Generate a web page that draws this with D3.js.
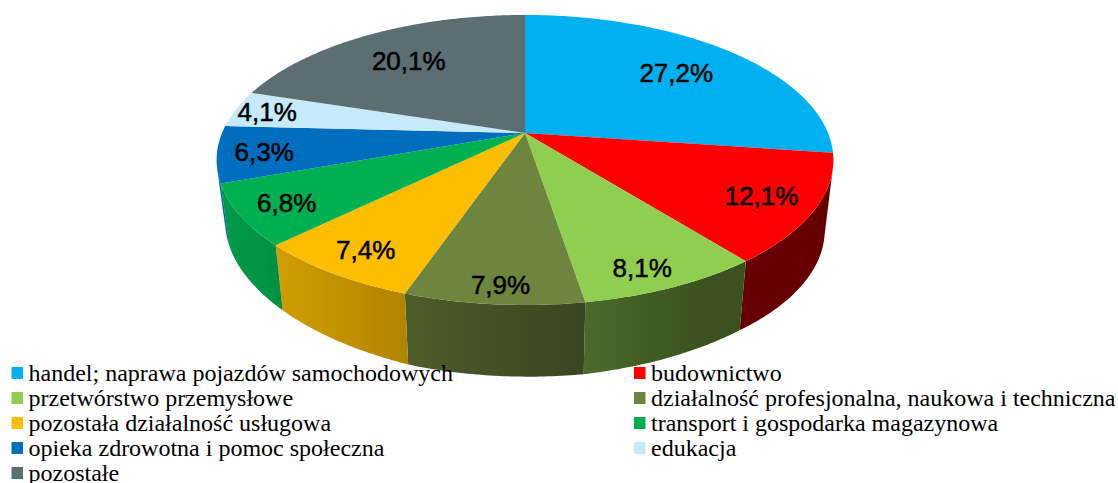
<!DOCTYPE html>
<html><head><meta charset="utf-8">
<style>html,body{margin:0;padding:0;background:#fff}svg{display:block}</style>
<script src="https://cdn.jsdelivr.net/npm/d3@7"></script>
</head><body><svg id="c" width="1118" height="483"></svg>
<script>
const categories = ["handel; naprawa pojazdów samochodowych","budownictwo","przetwórstwo przemysłowe","działalność profesjonalna, naukowa i techniczna","pozostała działalność usługowa","transport i gospodarka magazynowa","opieka zdrowotna i pomoc społeczna","edukacja","pozostałe"];
const values = [27.2,12.1,8.1,7.9,7.4,6.8,6.3,4.1,20.1];
const valueLabels = ["27,2%","12,1%","8,1%","7,9%","7,4%","6,8%","6,3%","4,1%","20,1%"];
const colors = ["#00B0F0","#FF0000","#90CE50","#6E853D","#FDBE00","#00AF50","#006EBE","#C6EAFA","#5B6E72"];

// layout
const W=1118,H=483, cx=525, apexY=133, k=0.186, A=140, B=303;
const labelR=[.72,.83,.875,.9,.85,.85,.85,.89,.72];
const labelTurn=[0,0,.033,-.01,0,0,0,0,0];
const svg=d3.select("#c"), defs=svg.append("defs");
// perspective projection of the unit disc onto the top face
const proj=(a,r=1)=>{const u=r*Math.sin(a),v=-r*Math.cos(a),w=1-k*v;return [cx+B*u/w,apexY+A*v/w];};
// same rim point on the lower face of the cylinder
const depth=d3.scaleLinear([220,275,405,585,746,833],[62,65,71,72,69,70]).clamp(true);
const lower=([x,y])=>[cx+(x-cx)*0.972,y+depth(x)];
const arcPts=(s,e)=>{const n=Math.max(2,Math.ceil((e-s)*80));return d3.range(n+1).map(i=>proj(s+(e-s)*i/n));};
const line=d3.line();
const arcs=d3.pie().sort(null).value(d=>d)(values);
const shade=d3.scaleLinear([225,700],[.88,.4]).clamp(true);
const darker=(c,f)=>{const r=d3.rgb(c);return d3.rgb(r.r*f,r.g*f,r.b*f).formatHex();};
// the wall can only be seen between these two rim angles
const wallFrom=105*Math.PI/180, wallTo=256*Math.PI/180;

arcs.forEach((d,i)=>{
  const s=Math.max(d.startAngle,wallFrom), e=Math.min(d.endAngle,wallTo);
  if(e<=s) return;
  const pts=arcPts(s,e), low=pts.map(lower);
  const x0=d3.min(low.concat(pts),p=>p[0]),x1=d3.max(low.concat(pts),p=>p[0]);
  const g=defs.append("linearGradient").attr("id","s"+i).attr("gradientUnits","userSpaceOnUse")
    .attr("x1",x0).attr("x2",x1).attr("y1",0).attr("y2",0);
  d3.range(9).forEach(j=>{const t=j/8;g.append("stop").attr("offset",t).attr("stop-color",darker(colors[i],shade(x0+(x1-x0)*t)));});
  svg.append("path").attr("d",line(pts.concat(low.reverse()))+"Z").attr("fill",`url(#s${i})`);
});
// top face
arcs.forEach((d,i)=>{
  svg.append("path").attr("d",line([[cx,apexY]].concat(arcPts(d.startAngle,d.endAngle)))+"Z").attr("fill",colors[i]);
});
// value labels
arcs.forEach((d,i)=>{
  const [x,y]=proj((d.startAngle+d.endAngle)/2+labelTurn[i],labelR[i]);
  svg.append("text").attr("x",x).attr("y",y+1).attr("text-anchor","middle").attr("dominant-baseline","central")
    .attr("font-family","Liberation Sans").attr("font-size",26).attr("fill","#000")
    .attr("stroke","#000").attr("stroke-width",.5).text(valueLabels[i]);
});
// legend
const colX=d3.scaleOrdinal([0,1],[11.5,634]), rowY=d3.scaleLinear([0,1],[367,392]);
categories.forEach((c,i)=>{
  const col=i%2,row=Math.floor(i/2),x=colX(col),y=rowY(row);
  svg.append("rect").attr("x",x).attr("y",y).attr("width",11.5).attr("height",12).attr("fill",colors[i]);
  svg.append("text").attr("x",x+17).attr("y",y+14).attr("font-family","Liberation Serif").attr("font-size",24).attr("fill","#000").text(c);
});
</script></body></html>
